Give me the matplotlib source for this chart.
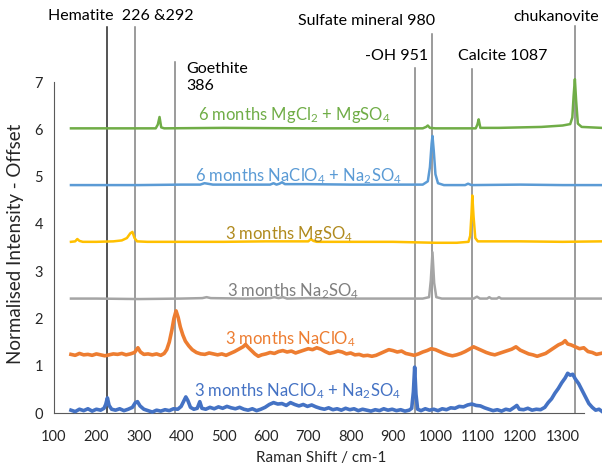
import matplotlib
matplotlib.use("Agg")
import matplotlib.pyplot as plt

plt.rcParams['font.family'] = ['Lato', 'DejaVu Sans']
plt.rcParams['mathtext.fontset'] = 'custom'
plt.rcParams['mathtext.rm'] = 'Lato'
plt.rcParams['mathtext.default'] = 'regular'

# spectra, normalised intensity (0..1), plotted with an offset
blue3_x = [140, 150, 160, 170, 180, 190, 200, 210, 218, 222, 226, 230, 236, 245, 255, 265, 275, 285, 292, 297,
           303, 312, 322, 332, 342, 352, 362, 372, 382, 392, 400, 406, 411, 416, 422, 430, 438, 444, 449, 458,
           468, 478, 488, 498, 508, 518, 528, 538, 548, 558, 568, 578, 588, 598, 608, 618, 628, 638, 648, 658,
           668, 678, 688, 698, 708, 718, 728, 738, 748, 758, 768, 778, 788, 798, 808, 818, 828, 838, 848, 858,
           868, 878, 888, 898, 908, 918, 928, 938, 944, 948, 951, 954, 958, 966, 976, 986, 996, 1006, 1016, 1026,
           1036, 1046, 1056, 1066, 1076, 1086, 1096, 1106, 1116, 1126, 1136, 1146, 1156, 1166, 1176, 1186, 1192,
           1198, 1208, 1218, 1228, 1238, 1248, 1258, 1266, 1274, 1282, 1290, 1298, 1306, 1312, 1318, 1324, 1330,
           1338, 1346, 1354, 1362, 1370, 1378, 1386, 1392]
blue3_y = [0.06, 0.03, 0.08, 0.05, 0.09, 0.04, 0.08, 0.06, 0.10, 0.18, 0.32, 0.16, 0.08, 0.06, 0.09, 0.05, 0.08,
           0.12, 0.22, 0.24, 0.15, 0.08, 0.05, 0.02, 0.06, 0.04, 0.07, 0.05, 0.09, 0.08, 0.14, 0.25, 0.34, 0.26,
           0.12, 0.08, 0.10, 0.24, 0.10, 0.08, 0.12, 0.09, 0.13, 0.10, 0.14, 0.11, 0.09, 0.12, 0.08, 0.06, 0.09,
           0.05, 0.08, 0.12, 0.18, 0.22, 0.19, 0.20, 0.16, 0.22, 0.18, 0.15, 0.18, 0.14, 0.17, 0.13, 0.10, 0.08,
           0.11, 0.07, 0.09, 0.06, 0.10, 0.07, 0.09, 0.05, 0.08, 0.06, 0.04, 0.07, 0.05, 0.09, 0.06, 0.08, 0.05,
           0.07, 0.04, 0.06, 0.10, 0.45, 0.97, 0.40, 0.08, 0.05, 0.09, 0.06, 0.08, 0.05, 0.09, 0.07, 0.11, 0.10,
           0.14, 0.13, 0.17, 0.19, 0.16, 0.15, 0.11, 0.08, 0.05, 0.07, 0.04, 0.08, 0.06, 0.12, 0.16, 0.08, 0.07,
           0.10, 0.06, 0.08, 0.07, 0.12, 0.22, 0.30, 0.42, 0.52, 0.64, 0.74, 0.84, 0.80, 0.82, 0.72, 0.62, 0.48,
           0.34, 0.20, 0.12, 0.06, 0.08, 0.04]

orange3_x = [140, 150, 160, 170, 180, 190, 200, 210, 220, 230, 240, 250, 260, 270, 280, 290, 298, 304, 312, 322,
             332, 342, 352, 360, 366, 372, 378, 383, 388, 393, 398, 404, 410, 418, 426, 436, 446, 456, 466, 476,
             486, 496, 506, 516, 526, 536, 546, 552, 558, 566, 574, 582, 590, 600, 610, 620, 630, 640, 650, 660,
             670, 680, 690, 700, 710, 720, 730, 740, 750, 760, 770, 780, 790, 800, 810, 820, 830, 840, 850, 860,
             870, 880, 890, 900, 910, 920, 930, 940, 950, 960, 970, 980, 990, 1000, 1010, 1020, 1030, 1040, 1050,
             1060, 1070, 1080, 1090, 1100, 1110, 1120, 1130, 1140, 1150, 1160, 1170, 1180, 1190, 1200, 1210, 1220,
             1230, 1240, 1250, 1260, 1270, 1280, 1290, 1300, 1306, 1312, 1320, 1330, 1340, 1350, 1360, 1370, 1380,
             1390]
orange3_y = [0.04, 0.02, 0.06, 0.03, 0.04, 0.02, 0.05, 0.03, 0.01, 0.03, 0.05, 0.04, 0.06, 0.03, 0.05, 0.08, 0.18,
             0.09, 0.04, 0.05, 0.03, 0.05, 0.02, 0.06, 0.14, 0.30, 0.55, 0.80, 0.96, 0.82, 0.62, 0.45, 0.32, 0.22,
             0.14, 0.08, 0.05, 0.04, 0.07, 0.05, 0.03, 0.05, 0.02, 0.06, 0.10, 0.15, 0.20, 0.25, 0.19, 0.12, 0.05,
             0.00, 0.03, 0.05, 0.08, 0.06, 0.10, 0.12, 0.09, 0.11, 0.07, 0.10, 0.13, 0.16, 0.14, 0.18, 0.15, 0.10,
             0.06, 0.08, 0.11, 0.09, 0.05, 0.07, 0.03, 0.04, 0.01, 0.02, 0.00, 0.02, 0.06, 0.10, 0.14, 0.12, 0.09,
             0.11, 0.06, 0.04, 0.02, 0.05, 0.09, 0.12, 0.16, 0.14, 0.10, 0.06, 0.03, 0.01, 0.03, 0.06, 0.10, 0.15,
             0.20, 0.16, 0.12, 0.08, 0.05, 0.03, 0.06, 0.09, 0.12, 0.15, 0.20, 0.13, 0.09, 0.05, 0.03, 0.00, 0.03,
             0.06, 0.12, 0.18, 0.24, 0.28, 0.33, 0.26, 0.24, 0.20, 0.16, 0.18, 0.10, 0.08, 0.04, 0.06]

gray3_x = [140, 200, 300, 400, 450, 460, 470, 550, 610, 620, 630, 640, 650, 700, 800, 900, 970, 985, 989, 993,
           997, 1002, 1015, 1090, 1098, 1105, 1122, 1127, 1132, 1145, 1150, 1155, 1250, 1330, 1392]
gray3_y = [0.02, 0.02, 0.01, 0.02, 0.03, 0.05, 0.03, 0.02, 0.03, 0.05, 0.03, 0.05, 0.02, 0.03, 0.02, 0.02, 0.02,
           0.05, 0.40, 1.00, 0.35, 0.05, 0.02, 0.02, 0.06, 0.02, 0.02, 0.05, 0.02, 0.02, 0.05, 0.02, 0.02, 0.02,
           0.02]

yellow3_x = [140, 150, 155, 160, 168, 200, 240, 260, 272, 280, 285, 290, 296, 320, 400, 500, 600, 700, 706, 712,
             720, 800, 900, 950, 1000, 1050, 1078, 1082, 1085, 1087, 1090, 1094, 1100, 1200, 1300, 1392]
yellow3_y = [0.02, 0.03, 0.08, 0.04, 0.02, 0.02, 0.03, 0.05, 0.10, 0.20, 0.23, 0.10, 0.03, 0.02, 0.02, 0.02, 0.03,
             0.03, 0.08, 0.04, 0.02, 0.02, 0.02, 0.01, 0.00, 0.00, 0.02, 0.15, 0.60, 1.00, 0.55, 0.10, 0.03, 0.03,
             0.02, 0.03]

blue6_x = [140, 200, 300, 400, 445, 455, 462, 475, 550, 610, 618, 625, 632, 638, 645, 700, 800, 900, 970, 982,
           987, 991, 993, 996, 1000, 1006, 1020, 1070, 1077, 1085, 1200, 1300, 1392]
blue6_y = [0.02, 0.02, 0.02, 0.03, 0.03, 0.06, 0.05, 0.03, 0.03, 0.03, 0.06, 0.03, 0.05, 0.08, 0.04, 0.04, 0.03,
           0.03, 0.03, 0.10, 0.40, 0.90, 1.06, 0.75, 0.25, 0.06, 0.02, 0.02, 0.05, 0.02, 0.03, 0.02, 0.02]

green6_x = [140, 200, 300, 340, 345, 349, 353, 360, 500, 700, 900, 970, 978, 982, 987, 1000, 1095, 1099, 1102,
            1106, 1150, 1200, 1250, 1300, 1318, 1323, 1326, 1329, 1332, 1336, 1345, 1392]
green6_y = [0.02, 0.02, 0.02, 0.02, 0.10, 0.26, 0.04, 0.02, 0.03, 0.02, 0.02, 0.02, 0.05, 0.08, 0.03, 0.02, 0.02,
            0.10, 0.21, 0.03, 0.03, 0.04, 0.05, 0.08, 0.11, 0.25, 0.70, 1.06, 0.60, 0.12, 0.05, 0.03]

series_x = [blue3_x, orange3_x, gray3_x, yellow3_x, blue6_x, green6_x]
series_y = [blue3_y, orange3_y, gray3_y, yellow3_y, blue6_y, green6_y]
offsets = [0, 1.2, 2.4, 3.6, 4.8, 6.0]
line_colors = ['#4472C4', '#ED7D31', '#A5A5A5', '#FFC000', '#5B9BD5', '#70AD47']
widths = [2.6, 2.6, 1.8, 1.8, 1.8, 1.8]

series_labels = ['3 months NaClO$_4$ + Na$_2$SO$_4$', '3 months NaClO$_4$', '3 months Na$_2$SO$_4$',
                 '3 months MgSO$_4$', '6 months NaClO$_4$ + Na$_2$SO$_4$', '6 months MgCl$_2$ + MgSO$_4$']
label_x = [674, 657, 665, 655, 676, 667]
label_y = [0.46, 1.57, 2.57, 3.79, 5.0, 6.3]
label_colors = ['#4472C4', '#ED7D31', '#7F7F7F', '#B08A1E', '#5B9BD5', '#70AD47']

# reference bands: position, top of marker line, colour
band_pos = [226, 292, 386, 951, 993, 1087, 1329]
band_top = [8.17, 8.17, 7.43, 7.3, 8.02, 7.28, 8.19]
band_colors = ['#262626', '#808080', '#808080', '#808080', '#808080', '#808080', '#808080']

band_text = ['Hematite  226 &292', 'Goethite\n386', 'Sulfate mineral 980', '-OH 951', 'Calcite 1087',
             'chukanovite']
band_text_x = [86, 411, 676, 834, 1053, 1184]
band_text_y = [8.4, 7.1, 8.3, 7.55, 7.55, 8.38]

fig = plt.figure(figsize=(6.02, 4.67), dpi=100)
ax = fig.add_axes([0.0897, 0.1156, 0.9103, 0.7088])

for xs, ys, off, c, lw in zip(series_x, series_y, offsets, line_colors, widths):
    ax.plot(xs, [v + off for v in ys], color=c, lw=lw, clip_on=False, zorder=3)

for p, t, c in zip(band_pos, band_top, band_colors):
    ax.plot([p, p], [0, t], color=c, lw=1.1, clip_on=False, zorder=2)

for s, x, y, c in zip(series_labels, label_x, label_y, label_colors):
    ax.text(x, y, s, color=c, fontsize=12, ha='center', va='center', zorder=4)

for s, x, y in zip(band_text, band_text_x, band_text_y):
    ax.text(x, y, s, color='black', fontsize=11.5, ha='left', va='center', linespacing=1.3, clip_on=False)

ax.set_xlim(100, 1393)
ax.set_ylim(0, 7)
ax.set_xticks(range(100, 1400, 100))
ax.set_yticks(range(0, 8))
ax.tick_params(length=0, labelsize=10.5, labelcolor='#262626')
ax.tick_params(axis='x', pad=12)
ax.tick_params(axis='y', pad=8)
for side in ['top', 'right']:
    ax.spines[side].set_visible(False)
ax.spines['left'].set_color('#5a5a5a')
ax.spines['bottom'].set_color('#5a5a5a')
ax.spines['bottom'].set_bounds(100, 1350)

ax.set_xlabel('Raman Shift / cm-1', fontsize=11, color='#262626')
ax.set_ylabel('Normalised Intensity - Offset', fontsize=13.5, color='#262626')
ax.xaxis.set_label_coords(0.487, -0.115)
ax.yaxis.set_label_coords(-0.055, 0.51)

fig.savefig('out.png', dpi=100)
